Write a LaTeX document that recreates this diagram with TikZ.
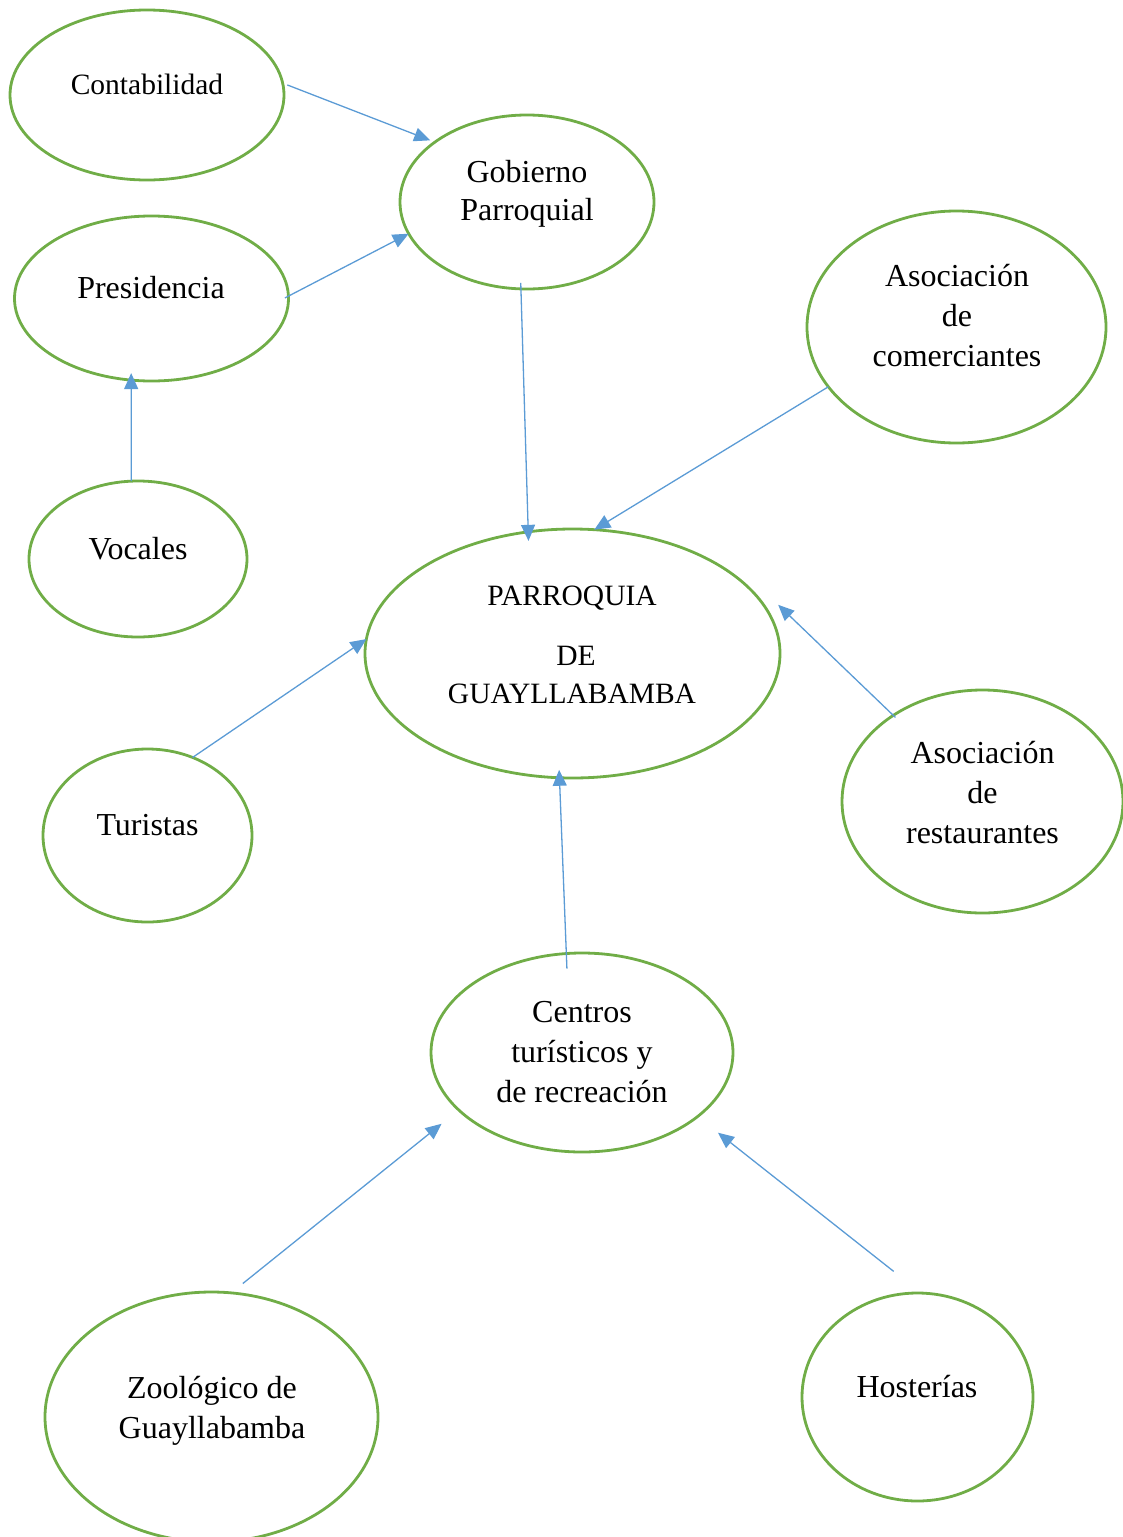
\documentclass[tikz,border=0pt]{standalone}
\usepackage{fontspec}
\setmainfont{Liberation Serif}
\usetikzlibrary{arrows.meta,shapes.geometric}
\definecolor{bubblegreen}{HTML}{70AD47}
\definecolor{linkblue}{HTML}{5B9BD5}
\begin{document}
\begin{tikzpicture}[x=1pt,y=-1pt,
  bubble/.style={ellipse,draw=bubblegreen,line width=2.8pt,inner sep=0pt,outer sep=0pt},
  caption/.style={anchor=base,align=center,inner sep=0pt,font=\fontsize{32}{39.8}\selectfont},
  smallcaption/.style={caption,font=\fontsize{29.5}{39.5}\selectfont},
  link/.style={draw=linkblue,line width=1.3pt,-{Triangle[length=16pt,width=14pt]}}]
\useasboundingbox (0,0) rectangle (1123,1537);
\clip (0,0) rectangle (1123,1537);

% ellipses
\node[bubble,minimum width=274pt,minimum height=170pt] (cont) at (147,95) {};
\node[bubble,minimum width=254pt,minimum height=174pt] (gob) at (527,202) {};
\node[bubble,minimum width=274pt,minimum height=165pt] (pres) at (151.5,298.5) {};
\node[bubble,minimum width=299pt,minimum height=232pt] (com) at (956.5,327) {};
\node[bubble,minimum width=218pt,minimum height=156pt] (voc) at (138,559) {};
\node[bubble,minimum width=415pt,minimum height=249pt] (parr) at (572.5,653.5) {};
\node[bubble,minimum width=209pt,minimum height=173pt] (tur) at (147.5,835.5) {};
\node[bubble,minimum width=281pt,minimum height=223pt] (rest) at (982.5,801.5) {};
\node[bubble,minimum width=302pt,minimum height=199pt] (cen) at (582,1052.5) {};
\node[bubble,minimum width=333pt,minimum height=250pt] (zoo) at (211.5,1417) {};
\node[bubble,minimum width=231pt,minimum height=208pt] (host) at (917.5,1397) {};

% labels (multi-line labels sit on the baseline of their last line)
\node[smallcaption] (cont-t) at (147,94) {Contabilidad};
\node[caption] (gob-t) at (527,220) {Gobierno\\[-1.8pt]Parroquial};
\node[caption] (pres-t) at (151,298) {Presidencia};
\node[caption] (com-t) at (957,366) {Asociación\\de\\comerciantes};
\node[caption] (voc-t) at (138,559) {Vocales};
\node[smallcaption] (parr-t) at (572,703) {PARROQUIA\\[20.5pt]\hspace*{8pt}DE\\[-1.5pt]GUAYLLABAMBA};
\node[caption] (tur-t) at (147.5,835) {Turistas};
\node[caption] (rest-t) at (982.5,843) {Asociación\\de\\restaurantes};
\node[caption] (cen-t) at (582,1102) {Centros\\turísticos y\\de recreación};
\node[caption] (zoo-t) at (212,1438) {Zoológico de\\Guayllabamba};
\node[caption] (host-t) at (917,1397) {Hosterías};

% connectors
\draw[link,shorten <=5pt,shorten >=5pt] (cont.5) -- (gob.147);
\draw[link,shorten <=-4pt] (pres.1) -- (gob.195);
\draw[link,shorten >=-7pt] (voc.95) -- (pres.256);
\draw[link,shorten <=-6pt,shorten >=-9pt] (gob.266) -- (parr.110);
\draw[link] (com.205) -- (parr.80);
\draw[link] (tur.60) -- (parr.176);
\draw[link,shorten <=-3pt] (rest.136) -- ([xshift=12pt,yshift=4pt]parr.13);
\draw[link,shorten <=-15pt,shorten >=-8pt] (cen.99) -- (parr.264);
\draw[link,shorten <=15pt,shorten >=22pt] (zoo.81) -- (cen.205);
\draw[link,shorten <=35pt,shorten >=26pt] (host.88) -- (cen.331);
\end{tikzpicture}
\end{document}
